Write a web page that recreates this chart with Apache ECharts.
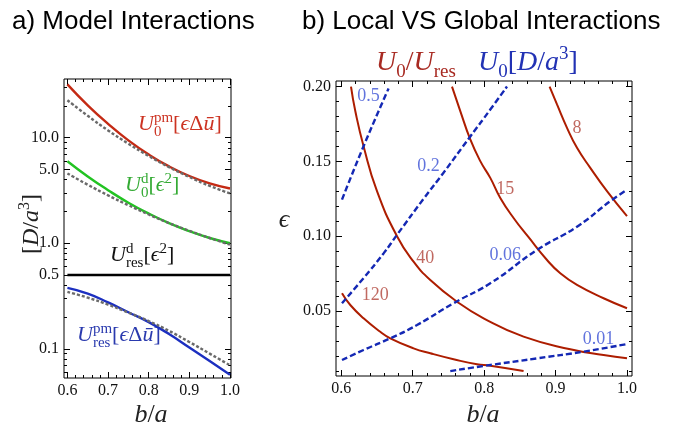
<!DOCTYPE html>
<html><head><meta charset="utf-8">
<script src="https://cdn.jsdelivr.net/npm/echarts@6/dist/echarts.min.js"></script>
<style>html,body{margin:0;padding:0;background:#fff}#c{width:681px;height:428px}</style>
</head><body><div id="c"></div>
<script>
// ---------- Panel a) Model Interactions ----------
const ba = [0.6, 0.65, 0.7, 0.75, 0.8, 0.85, 0.9, 0.95, 1.0];
const u0pm       = [31.9, 20.2, 13.5, 9.41, 6.92, 5.34, 4.33, 3.69, 3.30];
const u0pmApprox = [22.6, 16.1, 11.7, 8.75, 6.70, 5.26, 4.24, 3.49, 2.96];
const u0d        = [5.98, 4.29, 3.18, 2.42, 1.91, 1.55, 1.30, 1.12, 1.00];
const u0dApprox  = [4.58, 3.58, 2.84, 2.29, 1.87, 1.55, 1.31, 1.12, 0.97];
const uresd      = [0.5, 0.5, 0.5, 0.5, 0.5, 0.5, 0.5, 0.5, 0.5];
const urespm       = [0.377, 0.333, 0.275, 0.222, 0.179, 0.138, 0.103, 0.0766, 0.0569];
const urespmApprox = [0.346, 0.305, 0.262, 0.220, 0.183, 0.148, 0.116, 0.090, 0.0698];

const xMajor = [0.6, 0.7, 0.8, 0.9, 1.0];
const xMinor = [0.62,0.64,0.66,0.68,0.72,0.74,0.76,0.78,0.82,0.84,0.86,0.88,0.92,0.94,0.96,0.98];
const yaMajor = [0.1, 0.5, 1, 5, 10];
const yaMinor = [0.06,0.07,0.08,0.09,0.2,0.3,0.4,0.6,0.7,0.8,0.9,2,3,4,6,7,8,9,20,30];

// ---------- Panel b) Local VS Global Interactions ----------
// contours of U0/Ures (solid) as [b/a, eps]
const ratio8   = [[0.8916,0.200],[0.902,0.1881],[0.916,0.1725],[0.93,0.1591],[0.9486,0.1457],[0.972,0.1301],[1.0,0.1134]];
const ratio15  = [[0.755,0.200],[0.7666,0.1837],[0.7806,0.1647],[0.7946,0.1502],[0.8086,0.1390],[0.8226,0.1256],[0.8412,0.1122],[0.8622,0.0993],[0.888,0.0841],[0.9066,0.0752],[0.93,0.0674],[0.9672,0.0585],[1.0,0.0518]];
const ratio40  = [[0.6136,0.200],[0.6196,0.1837],[0.6312,0.1602],[0.650,0.1301],[0.678,0.1000],[0.7012,0.0830],[0.7246,0.0707],[0.762,0.0562],[0.7992,0.0451],[0.8552,0.0328],[0.9206,0.0244],[0.9672,0.0205],[1.0,0.0183]];
const ratio120 = [[0.601,0.0618],[0.6126,0.0540],[0.6312,0.0451],[0.6546,0.0361],[0.6686,0.0317],[0.7012,0.0250],[0.7246,0.0217],[0.7572,0.0177],[0.79,0.0143],[0.8086,0.0134],[0.8552,0.0098]];
// contours of U0 [D/a^3] (dashed)
const u0c05  = [[0.601,0.1245],[0.6312,0.1602],[0.6662,0.1988]];
const u0c02  = [[0.601,0.0552],[0.6312,0.0720],[0.6592,0.0885],[0.678,0.1009],[0.7152,0.1250],[0.7432,0.1425],[0.7806,0.1667],[0.8086,0.1847],[0.832,0.2001]];
const u0c006 = [[0.601,0.0172],[0.6312,0.0239],[0.6686,0.0317],[0.706,0.0406],[0.7572,0.0552],[0.8086,0.0685],[0.874,0.0908],[0.93,0.1064],[0.979,0.1243],[1.0,0.1310]];
const u0c001 = [[0.7526,0.0098],[0.7992,0.0132],[0.874,0.0183],[0.9392,0.0228],[1.0,0.0279]];
const ratioLabelText = ['8', '15', '40', '120'];
const ratioLabelAt   = [[0.93,0.1725],[0.8296,0.1312],[0.7176,0.0851],[0.6476,0.0607]];
const u0LabelText = ['0.5', '0.2', '0.06', '0.01'];
const u0LabelAt   = [[0.6382,0.1937],[0.7222,0.1469],[0.8296,0.0875],[0.9602,0.0311]];
const ybMajor = [0.05, 0.10, 0.15, 0.20];
const ybMinor = [0.01,0.02,0.03,0.04,0.06,0.07,0.08,0.09,0.11,0.12,0.13,0.14,0.16,0.17,0.18,0.19];

// ---------- helpers ----------
const SERIF = 'Liberation Serif';
const SANS = 'Liberation Sans';
const mctx = document.createElement('canvas').getContext('2d');
function mathGroup(x0, y0, color, tokens, opts) {
  opts = opts || {};
  let x = 0, holdW = 0;
  const kids = [];
  tokens.forEach(tk => {
    const t = tk[0], s = tk[1], it = tk[2], dy = tk[3] || 0, hold = tk[4];
    mctx.font = (it ? 'italic ' : '') + s + 'px "' + SERIF + '"';
    const w = mctx.measureText(t).width;
    kids.push({type:'text', x:x, y:dy - 0.34 * s, silent:true,
      style:{text:t, fontSize:s, fontFamily:SERIF, fontStyle: it ? 'italic' : 'normal',
             fill:color, align:'left', verticalAlign:'middle'}});
    if (hold) { holdW = w; } else { x += Math.max(w, holdW); holdW = 0; }
  });
  if (opts.center) kids.forEach(k => { k.x -= x / 2; });
  const g = {type:'group', x:x0, y:y0, children:kids};
  if (opts.rotation) g.rotation = opts.rotation;
  return g;
}
function axis(grid, pos, type, min, max, ticks, major, fmt) {
  const a = {type:type, gridIndex:grid, position:pos, min:min, max:max,
    axisLine:{show:false}, splitLine:{show:false},
    axisTick:{show:true, inside:true, length: major ? 6 : 3, customValues: ticks,
              lineStyle:{color:'#000', width:1}},
    axisLabel:{show:false}};
  if (type === 'log') a.logBase = 10;
  if (fmt) a.axisLabel = {show:true, customValues: ticks, formatter: fmt, margin:5,
      fontFamily:SERIF, fontSize:16, color:'#111'};
  return a;
}
const f1 = v => Number(v).toFixed(1);
const f2 = v => Number(v).toFixed(2);

const chart = echarts.init(document.getElementById('c'), null, {renderer:'canvas'});
const xa = [0.5916, 1.0025], xb = [0.5926, 1.007];
const ya = [0.0529, 35.9], yb = [0.0065, 0.2038];

const xAxes = [
  axis(0,'bottom','value',xa[0],xa[1],xMajor,true,f1),
  axis(0,'bottom','value',xa[0],xa[1],xMinor,false),
  axis(0,'top','value',xa[0],xa[1],xMajor,true),
  axis(0,'top','value',xa[0],xa[1],xMinor,false),
  axis(1,'bottom','value',xb[0],xb[1],xMajor,true,f1),
  axis(1,'bottom','value',xb[0],xb[1],xMinor,false),
  axis(1,'top','value',xb[0],xb[1],xMajor,true),
  axis(1,'top','value',xb[0],xb[1],xMinor,false)
];
const yAxes = [
  axis(0,'left','log',ya[0],ya[1],yaMajor,true,f1),
  axis(0,'left','log',ya[0],ya[1],yaMinor,false),
  axis(0,'right','log',ya[0],ya[1],yaMajor,true),
  axis(0,'right','log',ya[0],ya[1],yaMinor,false),
  axis(1,'left','value',yb[0],yb[1],ybMajor,true,f2),
  axis(1,'left','value',yb[0],yb[1],ybMinor,false),
  axis(1,'right','value',yb[0],yb[1],ybMajor,true),
  axis(1,'right','value',yb[0],yb[1],ybMinor,false)
];

const pair = arr => ba.map((x, i) => [x, arr[i]]);
function lineA(arr, color, dashed) {
  return {type:'line', xAxisIndex:0, yAxisIndex:0, data:pair(arr), smooth:true, showSymbol:false,
    silent:true, animation:false, z: dashed ? 3 : 2,
    lineStyle:{color:color, width:2.4, type: dashed ? [3, 2] : 'solid'}};
}
function lineB(data, solid) {
  return {type:'line', xAxisIndex:4, yAxisIndex:4, data:data, smooth:true, showSymbol:false,
    silent:true, animation:false,
    lineStyle: solid ? {color:'#ad1d00', width:2} : {color:'#1428b4', width:2.4, type:[6, 3]}};
}
function labelsB(texts, at, color) {
  return {type:'scatter', xAxisIndex:4, yAxisIndex:4, symbolSize:0, silent:true, animation:false,
    data: at.map((p, i) => ({value:p, name:texts[i]})),
    label:{show:true, position:'inside', formatter:'{b}', fontFamily:SERIF, fontSize:18, color:color}};
}

const series = [
  lineA(u0pm, '#c42a14'), lineA(u0pmApprox, '#6a6a6a', true),
  lineA(u0d, '#22c322'), lineA(u0dApprox, '#6a6a6a', true),
  lineA(uresd, '#000000'),
  lineA(urespm, '#1c2fc0'), lineA(urespmApprox, '#6a6a6a', true),
  lineB(ratio8, true), lineB(ratio15, true), lineB(ratio40, true), lineB(ratio120, true),
  lineB(u0c05, false), lineB(u0c02, false), lineB(u0c006, false), lineB(u0c001, false),
  labelsB(ratioLabelText, ratioLabelAt, '#b0443a'),
  labelsB(u0LabelText, u0LabelAt, '#3a50d4')
];

const graphics = [
  {type:'text', x:12, y:22, style:{text:'a) Model Interactions', fontFamily:SANS, fontSize:26, fill:'#000', verticalAlign:'middle'}},
  {type:'text', x:302, y:22, style:{text:'b) Local VS Global Interactions', fontFamily:SANS, fontSize:26, fill:'#000', verticalAlign:'middle'}},
  mathGroup(138, 132, '#cc3322', [['U',22,1,0],['0',15,0,5,1],['pm',15,0,-9],['[',22,0,0],['ϵ',22,1,0],['Δ',22,0,0],['ū',22,1,0],[']',22,0,0]]),
  mathGroup(125, 193, '#33aa33', [['U',22,1,0],['0',15,0,5,1],['d',15,0,-9],['[',22,0,0],['ϵ',22,1,0],['2',15,0,-9],[']',22,0,0]]),
  mathGroup(110, 263, '#111111', [['U',22,1,0],['res',15,0,5,1],['d',15,0,-9],['[',22,0,0],['ϵ',22,1,0],['2',15,0,-9],[']',22,0,0]]),
  mathGroup(77, 343, '#2a3aae', [['U',22,1,0],['res',15,0,5,1],['pm',15,0,-9],['[',22,0,0],['ϵ',22,1,0],['Δ',22,0,0],['ū',22,1,0],[']',22,0,0]]),
  mathGroup(376, 72, '#a82a22', [['U',28,1,0],['0',19,0,6],['/',28,0,0],['U',28,1,0],['res',19,0,6]]),
  mathGroup(478, 72, '#2232b4', [['U',28,1,0],['0',19,0,6],['[',28,0,0],['D',28,1,0],['/',28,0,0],['a',28,1,0],['3',19,0,-12],[']',28,0,0]]),
  mathGroup(40, 224, '#222', [['[',24,0,0],['D',24,1,0],['/',24,0,0],['a',24,1,0],['3',16,0,-10],[']',24,0,0]], {center:true, rotation:Math.PI/2}),
  mathGroup(151, 424, '#222', [['b',26,1,0],['/',26,0,0],['a',26,1,0]], {center:true}),
  mathGroup(483, 424, '#222', [['b',26,1,0],['/',26,0,0],['a',26,1,0]], {center:true}),
  mathGroup(284, 229, '#222', [['ϵ',26,1,0]], {center:true})
];

chart.setOption({
  animation:false,
  backgroundColor:'#fff',
  grid:[
    {left:64, top:79, width:167, height:299, show:true, borderColor:'#000', borderWidth:1, backgroundColor:'transparent'},
    {left:336, top:81, width:296, height:295, show:true, borderColor:'#000', borderWidth:1, backgroundColor:'transparent'}
  ],
  xAxis:xAxes, yAxis:yAxes, series:series, graphic:graphics
});
</script></body></html>
